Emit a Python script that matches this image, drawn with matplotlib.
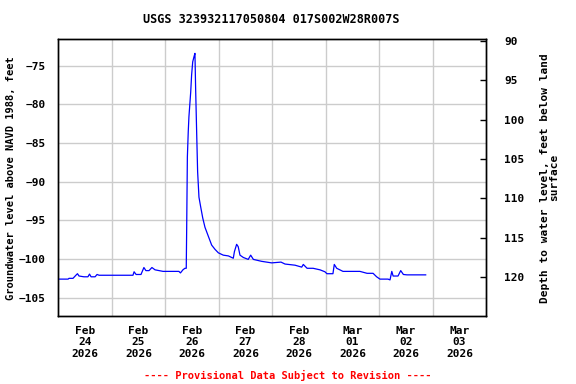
import numpy as np
import pandas as pd
import matplotlib
matplotlib.use('Agg')
import matplotlib.pyplot as plt
import matplotlib.dates as mdates

# hours elapsed since 2026-02-24 00:00 and groundwater level (ft above NAVD 1988)
hours = [0.0, 4.4, 4.8, 6.6, 7.9, 8.6, 9.3, 11.5, 13.3, 14.0, 14.7, 16.5, 17.4,
         18.3, 24.5, 33.5, 34.0, 34.9, 37.1, 38.4, 39.3, 40.7, 42.0, 43.4, 45.2,
         47.0, 54.1, 54.8, 55.9, 56.8, 57.4, 57.6, 57.9, 58.3, 58.6, 59.4, 59.8,
         60.3, 60.9, 61.3, 61.6, 62.1, 62.5, 63.1, 63.9, 64.8, 65.8, 67.1, 68.8,
         70.3, 71.8, 74.0, 76.3, 78.5, 79.0, 80.0, 80.7, 81.5, 83.0, 85.2, 86.3,
         87.5, 91.2, 95.7, 99.9, 101.7, 106.2, 109.2, 109.9, 111.6, 114.3, 117.4,
         119.6, 120.5, 123.2, 123.8, 124.9, 127.7, 135.3, 138.5, 141.2, 142.8,
         144.3, 147.9, 148.8, 149.6, 150.2, 152.4, 153.6, 154.8, 156.4, 164.8]
level = [-102.6, -102.6, -102.5, -102.5, -102.1, -101.9, -102.2, -102.3, -102.3,
         -101.95, -102.3, -102.3, -102.0, -102.1, -102.1, -102.1, -101.65, -102.0,
         -102.0, -101.1, -101.5, -101.5, -101.1, -101.4, -101.5, -101.6, -101.6,
         -101.8, -101.4, -101.2, -101.2, -95.8, -86.8, -83.5, -81.6, -78.4, -76.2,
         -74.5, -73.8, -73.4, -77.9, -84.0, -88.7, -92.0, -93.3, -94.7, -95.9,
         -96.9, -98.2, -98.75, -99.2, -99.5, -99.6, -99.9, -99.05, -98.1, -98.4,
         -99.5, -99.8, -100.05, -99.5, -100.05, -100.3, -100.5, -100.4, -100.65,
         -100.8, -101.05, -100.7, -101.2, -101.2, -101.4, -101.65, -101.9, -101.9,
         -100.7, -101.2, -101.6, -101.6, -101.85, -101.85, -102.3, -102.6, -102.6,
         -102.7, -101.6, -102.2, -102.2, -101.5, -102.0, -102.05, -102.05]

day_labels = ["Feb\n24\n2026", "Feb\n25\n2026", "Feb\n26\n2026", "Feb\n27\n2026",
              "Feb\n28\n2026", "Mar\n01\n2026", "Mar\n02\n2026", "Mar\n03\n2026"]
left_ticks = [-75, -80, -85, -90, -95, -100, -105]
right_ticks = [90, 95, 100, 105, 110, 115, 120]

start = pd.Timestamp("2026-02-24")
times = start + pd.to_timedelta(hours, unit="h")

FONT = "DejaVu Sans Mono"
plt.rcParams['font.family'] = FONT
plt.rcParams['font.weight'] = 'bold'
plt.rcParams['font.size'] = 8

fig = plt.figure(figsize=(5.76, 3.84), dpi=100)
ax = fig.add_axes([0.1012, 0.1771, 0.7431, 0.7206])

ax.plot(times, level, color='#0000ff', lw=0.9, zorder=3)

x0 = start
x1 = start + pd.Timedelta(days=8)
ax.set_xlim(x0, x1)
noon = [start + pd.Timedelta(hours=12 + 24 * i) for i in range(len(day_labels))]
midnight = [start + pd.Timedelta(days=i) for i in range(1, 8)]
ax.set_xticks(noon)
ax.set_xticklabels(day_labels, fontweight='bold')
ax.set_xticks(midnight, minor=True)
ax.tick_params(axis='x', which='both', length=0, pad=7)
ax.grid(True, axis='x', which='minor', color='#cccccc', lw=1)

ax.set_ylim(-107.37, -71.58)
ax.set_yticks(left_ticks)
ax.tick_params(axis='y', length=0, pad=9)
ax.grid(True, axis='y', which='major', color='#cccccc', lw=1)
ax.set_axisbelow(True)
ax.set_ylabel("Groundwater level above NAVD 1988, feet", fontweight='bold',
              fontsize=7.5, va='center')
ax.yaxis.set_label_coords(-0.1105, 0.5)

ax2 = ax.twinx()
ax2.set_ylim(124.9, 89.82)
ax2.set_yticks(right_ticks)
ax2.tick_params(axis='y', direction='in', length=4, width=1, pad=13)
ax2.set_ylabel("Depth to water level, feet below land\nsurface", fontweight='bold',
               rotation=90, linespacing=0.9, va='center')
ax2.yaxis.set_label_coords(1.1477, 0.5)

for a in (ax, ax2):
    for s in a.spines.values():
        s.set_color('black')
        s.set_linewidth(1)

fig.text(0.471, 0.95, "USGS 323932117050804 017S002W28R007S", ha='center',
         va='center', fontsize=8.5, fontweight='bold')
fig.text(0.5, 0.023, "---- Provisional Data Subject to Revision ----", ha='center',
         va='center', color='#ff0000', fontsize=7.5, fontweight='bold')

fig.savefig("out.png", dpi=100)
